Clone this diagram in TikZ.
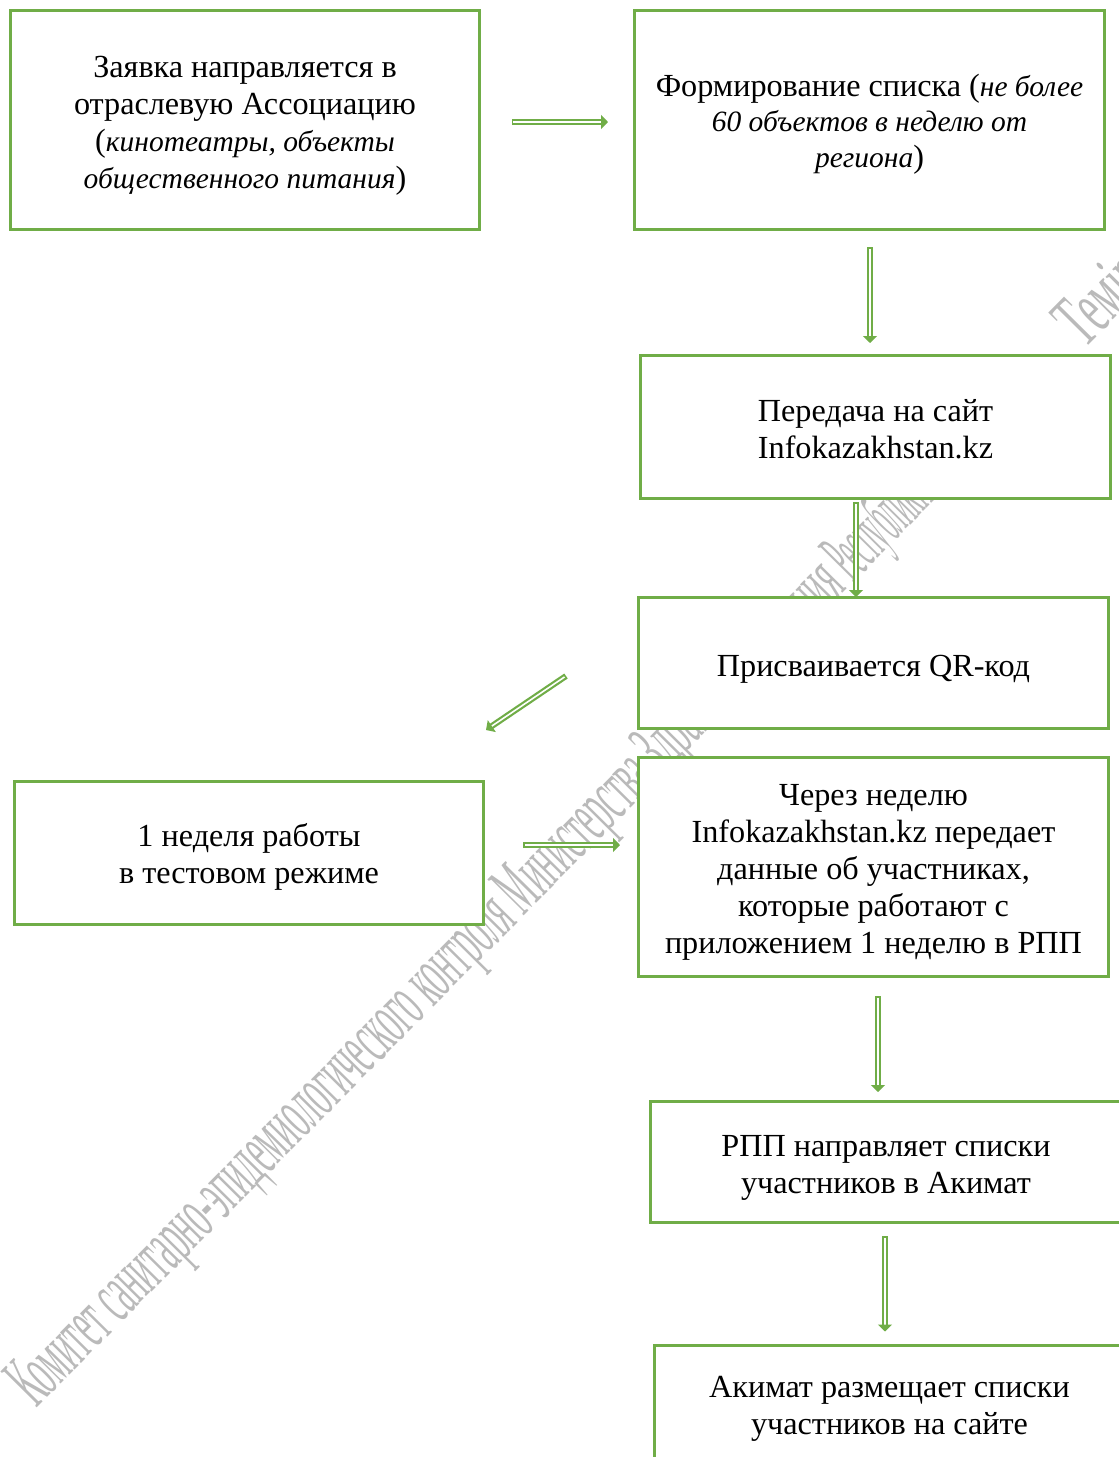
\documentclass[tikz,border=0pt]{standalone}
\usepackage{fontspec}
\setmainfont{Liberation Serif}
\usetikzlibrary{arrows.meta}
\definecolor{boxgreen}{HTML}{70AD47}
\newcommand{\itx}[1]{{\fontsize{29.5}{29.5}\selectfont\itshape #1}}
\newcommand{\topgap}[1]{\rule{0pt}{#1pt}}
\tikzset{
  stepbox/.style={draw=boxgreen,line width=3pt,fill=white,inner sep=0pt,align=center,
    font=\fontsize{32.2}{37}\selectfont,text=black},
  dblarrow/.style={draw=boxgreen,line width=2.2pt,double=white,double distance=1.6pt,
    {Bar[width=6pt,line width=1.6pt,sep=0pt]}-{Triangle[length=7pt,width=14pt,fill=boxgreen]}},
  watermark/.style={font=\fontsize{78}{78}\selectfont,text=black!27,anchor=base west,
    transform shape,inner sep=0pt}
}
\begin{document}
\begin{tikzpicture}[x=1pt,y=-1pt]
\clip (0,0) rectangle (1119,1457);
\fill[white] (0,0) rectangle (1119,1457);
\node[watermark,rotate=45.3,xscale=.40] (wm) at (36,1409) {Комитет санитарно-эпидемиологического контроля Министерства Здрав\hspace{85pt}оохранения \scalebox{.75}[1]{Республики}\hspace{530pt}\scalebox{1.25}[1]{Теміржол}};
\node[stepbox,minimum width=469pt,minimum height=219pt] (b1) at (245,120)
  {\topgap{32}Заявка направляется в\\отраслевую Ассоциацию\\(\itx{кинотеатры, объекты}\\\itx{общественного питания})};
\node[stepbox,minimum width=470pt,minimum height=219pt,font=\fontsize{32.2}{35.5}\selectfont] (b2) at (869.5,120)
  {\topgap{30}Формирование списка (\itx{не более}\\\itx{60 объектов в неделю от}\\\itx{региона})};
\node[stepbox,minimum width=470pt,minimum height=143pt] (b3) at (875.5,427)
  {\topgap{26}Передача на сайт\\Infokazakhstan.kz};
\node[stepbox,minimum width=470pt,minimum height=131pt] (b4) at (873.5,663)
  {\topgap{34}Присваивается QR-код};
\node[stepbox,minimum width=470pt,minimum height=219pt] (b5) at (873.5,867)
  {\topgap{32}Через неделю\\Infokazakhstan.kz передает\\данные об участниках,\\которые работают с\\приложением 1 неделю в РПП};
\node[stepbox,minimum width=469pt,minimum height=143pt] (b6) at (249,853)
  {\topgap{30}1 неделя работы\\в тестовом режиме};
\node[stepbox,minimum width=472pt,minimum height=121pt] (b7) at (886,1162)
  {\topgap{32}РПП направляет списки\\участников в Акимат};
\node[stepbox,minimum width=471pt,minimum height=120pt] (b8) at (889.5,1405)
  {\topgap{28}Акимат размещает списки\\участников на сайте};
\draw[dblarrow] ([xshift=30.5pt,yshift=-2pt]b1.east) -- ([xshift=-25pt,yshift=-2pt]b2.west);
\draw[dblarrow] ([xshift=.5pt,yshift=-16pt]b2.south) -- ([xshift=-5.5pt,yshift=11pt]b3.north);
\draw[dblarrow] ([xshift=-19.5pt,yshift=-2pt]b3.south) -- ([xshift=-17.5pt,yshift=-1pt]b4.north);
\draw[dblarrow] ([xshift=-71pt,yshift=-13pt]b4.west) -- ([xshift=237pt,yshift=50pt]b6.north);
\draw[dblarrow] ([xshift=38pt,yshift=8pt]b6.east) -- ([xshift=-17pt,yshift=22pt]b5.west);
\draw[dblarrow] ([xshift=4.5pt,yshift=-18pt]b5.south) -- ([xshift=-8pt,yshift=8pt]b7.north);
\draw[dblarrow] ([xshift=-1pt,yshift=-12pt]b7.south) -- ([xshift=-4.5pt,yshift=12pt]b8.north);
\end{tikzpicture}
\end{document}
